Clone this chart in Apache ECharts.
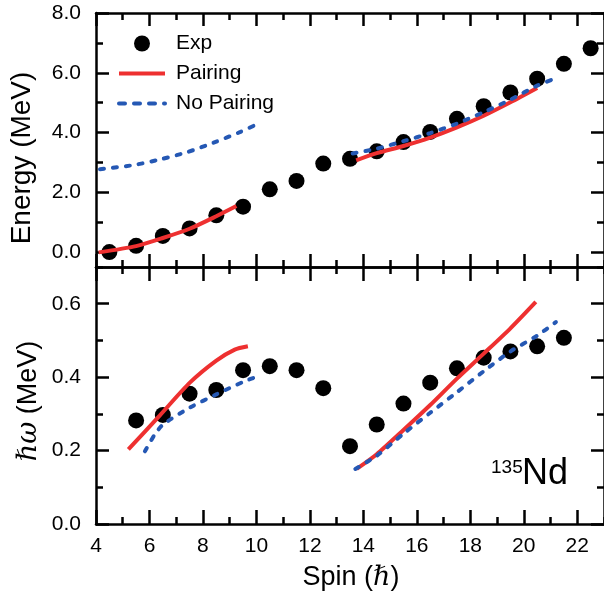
<!DOCTYPE html>
<html>
<head>
<meta charset="utf-8">
<script src="https://cdn.jsdelivr.net/npm/echarts@6/dist/echarts.min.js"></script>
<style>html,body{margin:0;padding:0;background:#fff;}#c{width:604px;height:594px;}</style>
</head>
<body>
<div id="c"></div>
<script>
// ---------- data ----------
const expSpinTop = [4.5,5.5,6.5,7.5,8.5,9.5,10.5,11.5,12.5,13.5,14.5,15.5,16.5,17.5,18.5,19.5,20.5,21.5,22.5];
const expEnergy  = [0.0,0.21,0.54,0.79,1.23,1.52,2.10,2.38,2.96,3.12,3.37,3.68,4.02,4.46,4.88,5.34,5.80,6.30,6.82];

const pairE1Spin = [4.1,5.5,6.5,7.5,8.5,9.25];
const pairE1     = [-0.01,0.20,0.47,0.78,1.20,1.54];
const pairE2Spin = [13.73,14.5,15.5,16.5,17.5,18.5,19.5,20.5];
const pairE2     = [3.07,3.31,3.55,3.83,4.17,4.56,5.01,5.49];

const noPairE1Spin = [4.15,5.4,6.4,7.4,8.4,9.4,10.05];
const noPairE1     = [2.77,2.91,3.10,3.34,3.66,4.02,4.29];
const noPairE2Spin = [13.6,14.5,15.5,16.5,17.5,18.5,19.5,20.5,21.2];
const noPairE2     = [3.30,3.46,3.71,3.98,4.30,4.68,5.10,5.57,5.82];

const expSpinBot = [5.5,6.5,7.5,8.5,9.5,10.5,11.5,12.5,13.5,14.5,15.5,16.5,17.5,18.5,19.5,20.5,21.5];
const expOmega   = [0.282,0.297,0.355,0.365,0.419,0.430,0.419,0.370,0.212,0.271,0.328,0.385,0.424,0.453,0.470,0.484,0.507];

const pairW1Spin = [5.21,6.39,7.51,8.5,9.19,9.68];
const pairW1     = [0.203,0.296,0.385,0.445,0.475,0.484];
const pairW2Spin = [13.75,14.5,15.5,16.5,17.5,18.5,19.5,20.45];
const pairW2     = [0.150,0.190,0.256,0.324,0.396,0.464,0.533,0.605];

const noPairW1Spin = [5.83,6.2,6.51,7.51,8.5,9.5,10.12];
const noPairW1     = [0.198,0.244,0.271,0.317,0.353,0.387,0.404];
const noPairW2Spin = [13.7,14.5,15.5,16.5,17.5,18.5,19.5,20.5,21.2];
const noPairW2     = [0.150,0.186,0.246,0.303,0.359,0.416,0.470,0.513,0.550];

const xMajor = [4,6,8,10,12,14,16,18,20,22];
const xMinor = [5,7,9,11,13,15,17,19,21,23];
const yTopMajor = [0,2,4,6,8];
const yTopMinor = [1,3,5,7];
const yBotMajor = [0,0.2,0.4,0.6];
const yBotMinor = [0.1,0.3,0.5,0.7];

const seriesNames = ['Exp','Pairing','No Pairing'];

// ---------- helpers ----------
const zip = (xs, ys) => xs.map((x, i) => [x, ys[i]]);
const FONT = "'Liberation Sans', Arial, Helvetica, sans-serif";
const RED = '#ee3030';
const BLUE = '#2558b4';
const DASH = [4, 9];

function axis(grid, pos, min, max, ticks, len, labels, showLine) {
  const a = {
    type: 'value', gridIndex: grid, position: pos, min: min, max: max,
    axisLine: { show: showLine, onZero: false, lineStyle: { color: '#000', width: 2.5 } },
    axisTick: { show: true, inside: true, length: len, customValues: ticks, lineStyle: { color: '#000', width: 2.5 } },
    axisLabel: { show: false },
    splitLine: { show: false }
  };
  if (labels) {
    a.axisLabel = {
      show: true, customValues: labels, color: '#000', fontSize: 21, fontFamily: FONT,
      margin: (pos === 'left') ? 15 : 12,
      formatter: (pos === 'left') ? (v => v.toFixed(1)) : (v => String(v))
    };
  }
  return a;
}

const xAxes = [
  axis(0, 'bottom', 4, 23, xMajor, 13, null, true),
  axis(0, 'bottom', 4, 23, xMinor, 7, null, false),
  axis(0, 'top', 4, 23, xMajor, 13, null, true),
  axis(0, 'top', 4, 23, xMinor, 7, null, false),
  axis(1, 'bottom', 4, 23, xMajor, 14, xMajor, true),
  axis(1, 'bottom', 4, 23, xMinor, 7, null, false),
  axis(1, 'top', 4, 23, xMajor, 14, null, true),
  axis(1, 'top', 4, 23, xMinor, 7, null, false)
];
const yAxes = [
  axis(0, 'left', -0.5, 8, yTopMajor, 13, yTopMajor, true),
  axis(0, 'left', -0.5, 8, yTopMinor, 7, null, false),
  axis(0, 'right', -0.5, 8, yTopMajor, 13, null, true),
  axis(0, 'right', -0.5, 8, yTopMinor, 7, null, false),
  axis(1, 'left', 0, 0.7, yBotMajor, 13, yBotMajor, true),
  axis(1, 'left', 0, 0.7, yBotMinor, 7, null, false),
  axis(1, 'right', 0, 0.7, yBotMajor, 13, null, true),
  axis(1, 'right', 0, 0.7, yBotMinor, 7, null, false)
];

function scatter(name, xi, yi, data) {
  return { name, type: 'scatter', xAxisIndex: xi, yAxisIndex: yi, data, symbol: 'circle', symbolSize: 16,
    itemStyle: { color: '#000', opacity: 1 }, z: 2 };
}
function line(name, xi, yi, data, color, dashed) {
  return { name, type: 'line', xAxisIndex: xi, yAxisIndex: yi, data, smooth: 0.25, symbol: 'none', showSymbol: false,
    lineStyle: { color, width: 4, type: dashed ? DASH : 'solid', cap: dashed ? 'round' : 'butt' },
    itemStyle: { color }, z: 3 };
}

const series = [
  scatter(seriesNames[0], 0, 0, zip(expSpinTop, expEnergy)),
  scatter(seriesNames[0], 4, 4, zip(expSpinBot, expOmega)),
  line(seriesNames[1], 0, 0, zip(pairE1Spin, pairE1), RED, false),
  line(seriesNames[1], 0, 0, zip(pairE2Spin, pairE2), RED, false),
  line(seriesNames[2], 0, 0, zip(noPairE1Spin, noPairE1), BLUE, true),
  line(seriesNames[2], 0, 0, zip(noPairE2Spin, noPairE2), BLUE, true),
  line(seriesNames[1], 4, 4, zip(pairW1Spin, pairW1), RED, false),
  line(seriesNames[1], 4, 4, zip(pairW2Spin, pairW2), RED, false),
  line(seriesNames[2], 4, 4, zip(noPairW1Spin, noPairW1), BLUE, true),
  line(seriesNames[2], 4, 4, zip(noPairW2Spin, noPairW2), BLUE, true)
];

const chart = echarts.init(document.getElementById('c'), null, { renderer: 'canvas' });
chart.setOption({
  backgroundColor: '#fff',
  animation: false,
  textStyle: { fontFamily: FONT },
  grid: [
    { left: 96, top: 13, width: 509, height: 254 },
    { left: 96, top: 267, width: 509, height: 257 }
  ],
  xAxis: xAxes,
  yAxis: yAxes,
  legend: {
    data: [
      { name: seriesNames[0] },
      { name: seriesNames[1], itemStyle: { opacity: 0 }, lineStyle: { width: 4 } },
      { name: seriesNames[2], itemStyle: { opacity: 0 }, lineStyle: { width: 4, type: [6, 9], cap: 'round' } }
    ],
    orient: 'vertical', left: 117, top: 33, padding: 0,
    itemWidth: 46, itemHeight: 16, itemGap: 9, selectedMode: false,
    textStyle: { fontSize: 21, color: '#000', fontFamily: FONT, padding: [0, 0, 0, 6] }
  },
  series: series,
  graphic: [
    { type: 'text', x: 22, y: 158, rotation: Math.PI / 2,
      style: { text: 'Energy (MeV)', fontSize: 28, fontFamily: FONT, fill: '#000', align: 'center', verticalAlign: 'middle' } },
    { type: 'text', x: 29, y: 401, rotation: Math.PI / 2,
      style: { text: '{i|ℏω} (MeV)', fontSize: 27, fontFamily: FONT, fill: '#000', align: 'center', verticalAlign: 'middle',
        rich: { i: { fontSize: 27, fontFamily: "'DejaVu Serif', serif", fontStyle: 'italic', fill: '#000' } } } },
    { type: 'text', x: 351, y: 578,
      style: { text: 'Spin ({i|ℏ})', fontSize: 27, fontFamily: FONT, fill: '#000', align: 'center', verticalAlign: 'middle',
        rich: { i: { fontSize: 27, fontFamily: "'DejaVu Serif', serif", fontStyle: 'italic', fill: '#000' } } } },
    { type: 'text', x: 491, y: 468,
      style: { text: '135', fontSize: 19, fontFamily: FONT, fill: '#000', align: 'left', verticalAlign: 'middle' } },
    { type: 'text', x: 522, y: 474,
      style: { text: 'Nd', fontSize: 36, fontFamily: FONT, fill: '#000', align: 'left', verticalAlign: 'middle' } }
  ]
});
</script>
</body>
</html>
